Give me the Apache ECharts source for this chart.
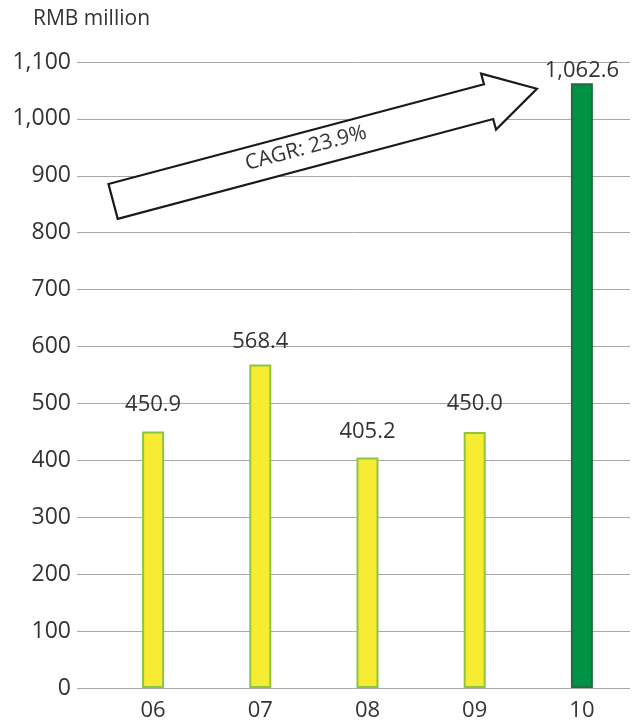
<!DOCTYPE html>
<html>
<head>
<meta charset="utf-8">
<script src="https://cdn.jsdelivr.net/npm/echarts@6/dist/echarts.min.js"></script>
<style>
  html, body { margin: 0; padding: 0; background: #fff; }
  #chart { width: 639px; height: 723px; }
</style>
</head>
<body>
<div id="chart"></div>
<script>
// data
var years = ["06", "07", "08", "09", "10"];
var revenue = [450.9, 568.4, 405.2, 450.0, 1062.6];
var yTicks = [0, 100, 200, 300, 400, 500, 600, 700, 800, 900, 1000, 1100];
var unitLabel = "RMB million";
var cagrLabel = "CAGR: 23.9%";

var FONT = "Open Sans";
var FS = 22;
var TEXT = "#333333";
var yMax = yTicks[yTicks.length - 1];
var yStep = yTicks[1] - yTicks[0];

// label gap above each bar (excel nudges them a bit)
var labelLift = [16, 12, 15, 17, 2];

function fmt(v, dec) {
  var s = v.toFixed(dec);
  var parts = s.split(".");
  parts[0] = parts[0].replace(/\B(?=(\d{3})+(?!\d))/g, ",");
  return parts.join(".");
}

var barData = revenue.map(function (v, i) {
  var last = i === revenue.length - 1;
  return {
    value: v,
    itemStyle: {
      color: last ? "#009245" : "#f7ec31",
      borderColor: last ? "#1f6e3c" : "#8cc63f",
      borderWidth: 2
    },
    label: { distance: labelLift[i] }
  };
});

var chart = echarts.init(document.getElementById("chart"), null, { renderer: "canvas" });

var option = {
  animation: false,
  textStyle: { fontFamily: FONT },
  grid: [
    { left: 77, right: 9, top: 62, bottom: 35 },
    { left: 99.5, right: 3.5, top: 62, bottom: 35 }
  ],
  xAxis: [
    { type: "category", gridIndex: 0, data: years, show: false },
    {
      type: "category",
      gridIndex: 1,
      data: years,
      axisLine: { show: false },
      axisTick: { show: false },
      axisLabel: { color: TEXT, fontSize: FS, fontFamily: FONT, margin: 12 }
    }
  ],
  yAxis: [
    {
      type: "value",
      gridIndex: 0,
      min: 0,
      max: yMax,
      interval: yStep,
      axisLine: { show: false },
      axisTick: { show: false },
      axisLabel: {
        color: TEXT,
        fontSize: 23,
        fontFamily: FONT,
        margin: 6,
        formatter: function (v) { return fmt(v, 0); }
      },
      splitLine: { lineStyle: { color: "#a8a8a8", width: 1 } }
    },
    { type: "value", gridIndex: 1, min: 0, max: yMax, interval: yStep, show: false }
  ],
  series: [
    {
      type: "bar",
      xAxisIndex: 1,
      yAxisIndex: 1,
      barWidth: 22,
      data: barData,
      label: {
        show: true,
        position: "top",
        color: TEXT,
        fontSize: FS,
        fontFamily: FONT,
        formatter: function (p) { return fmt(p.value, 1); }
      }
    }
  ]
};

chart.setOption(option);

// CAGR arrow, anchored in data space
function arrowPoints(tail, tip, shaftHalf, headHalf, headLen) {
  var dx = tip[0] - tail[0], dy = tip[1] - tail[1];
  var len = Math.sqrt(dx * dx + dy * dy);
  var ux = dx / len, uy = dy / len;
  var nx = uy, ny = -ux;
  var bx = tail[0] + ux * (len - headLen), by = tail[1] + uy * (len - headLen);
  return [
    [tail[0] + nx * shaftHalf, tail[1] + ny * shaftHalf],
    [bx + nx * shaftHalf, by + ny * shaftHalf],
    [bx + nx * headHalf, by + ny * headHalf],
    [tip[0], tip[1]],
    [bx - nx * headHalf, by - ny * headHalf],
    [bx - nx * shaftHalf, by - ny * shaftHalf],
    [tail[0] - nx * shaftHalf, tail[1] - ny * shaftHalf]
  ];
}

var p06 = chart.convertToPixel({ xAxisIndex: 1, yAxisIndex: 1 }, ["06", 855]);
var p10 = chart.convertToPixel({ xAxisIndex: 1, yAxisIndex: 1 }, ["10", 1053]);
var tail = [p06[0] - 40, p06[1]];
var tip = [p10[0] - 45, p10[1]];
var pts = arrowPoints(tail, tip, 18, 29, 50);
var ang = Math.atan2(tip[1] - tail[1], tip[0] - tail[0]);
var mid = [tail[0] + (tip[0] - tail[0]) * 0.455, tail[1] + (tip[1] - tail[1]) * 0.455 - 2];

chart.setOption({
  graphic: [
    {
      type: "text",
      left: 33,
      top: 9,
      style: { text: unitLabel, fill: TEXT, font: "21px '" + FONT + "'" }
    },
    {
      type: "polygon",
      shape: { points: pts },
      style: { fill: "#ffffff", stroke: "#1a1a1a", lineWidth: 2.2 },
      z: 10
    },
    {
      type: "text",
      x: mid[0],
      y: mid[1],
      rotation: -ang,
      style: {
        text: cagrLabel,
        fill: TEXT,
        font: "21px '" + FONT + "'",
        align: "center",
        verticalAlign: "middle"
      },
      z: 11
    }
  ]
});
</script>
</body>
</html>
